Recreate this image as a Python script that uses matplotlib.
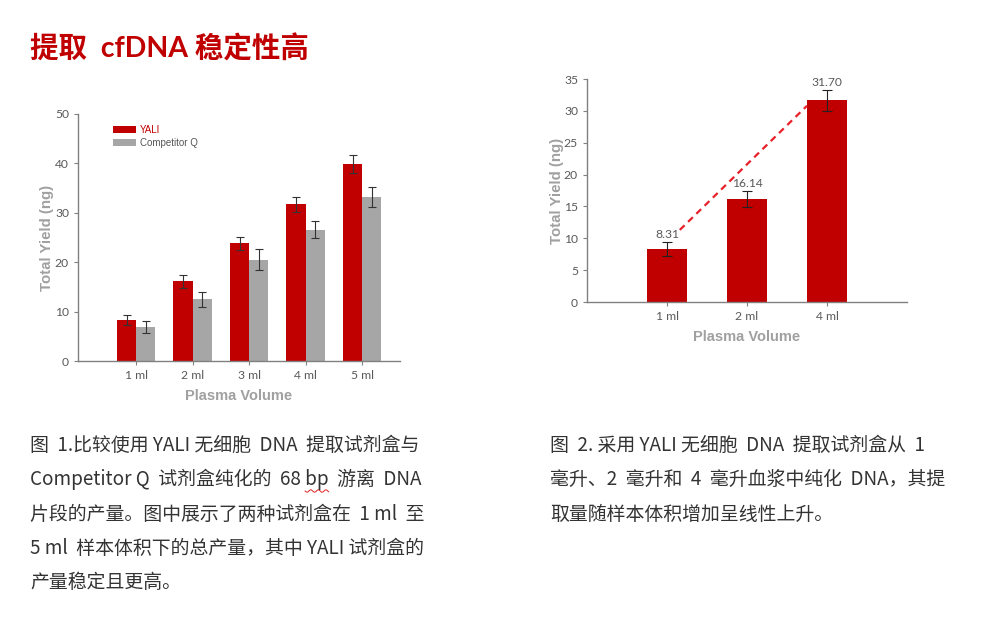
import numpy as np
import matplotlib.pyplot as plt

# data
volumes_1 = ['1 ml', '2 ml', '3 ml', '4 ml', '5 ml']
yali_1 = [8.3, 16.1, 23.8, 31.7, 39.8]
yali_err_1 = [1.05, 1.3, 1.4, 1.55, 1.8]
comp_1 = [6.9, 12.5, 20.5, 26.6, 33.2]
comp_err_1 = [1.2, 1.5, 2.1, 1.7, 2.1]

volumes_2 = ['1 ml', '2 ml', '4 ml']
yali_2 = [8.31, 16.14, 31.70]
yali_err_2 = [1.15, 1.25, 1.65]

title = '提取  cfDNA 稳定性高'
caption_1 = ['图  1.比较使用 YALI 无细胞  DNA  提取试剂盒与',
             'Competitor Q  试剂盒纯化的  68 bp  游离  DNA',
             '片段的产量。图中展示了两种试剂盒在  1 ml  至',
             '5 ml  样本体积下的总产量，其中 YALI 试剂盒的',
             '产量稳定且更高。']
caption_2 = ['图  2. 采用 YALI 无细胞  DNA  提取试剂盒从  1',
             '毫升、2  毫升和  4  毫升血浆中纯化  DNA，其提',
             '取量随样本体积增加呈线性上升。']

RED = '#C00000'
GRAY = '#A6A6A6'
SPINE = '#808080'
TICK = '#595959'
LABEL = '#A0A0A0'

plt.rcParams['font.family'] = ['Noto Sans CJK SC', 'DejaVu Sans']

W, H = 984, 624
fig = plt.figure(figsize=(W / 100, H / 100), dpi=100)


def px_axes(l, t, r, b):
    return fig.add_axes([l / W, 1 - b / H, (r - l) / W, (b - t) / H])


def style(ax):
    for s in ['top', 'right']:
        ax.spines[s].set_visible(False)
    for s in ['left', 'bottom']:
        ax.spines[s].set_color(SPINE)
        ax.spines[s].set_linewidth(1.0)
    ax.tick_params(axis='both', colors=SPINE, labelcolor=TICK, length=3,
                   width=0.8, labelsize=8.7)
    for lab in ax.get_xticklabels() + ax.get_yticklabels():
        lab.set_family('Lato')
    ax.set_ylabel('Total Yield (ng)', family='Liberation Sans', weight='bold',
                  color=LABEL, fontsize=10.8)
    ax.set_xlabel('Plasma Volume', family='Liberation Sans', weight='bold',
                  color=LABEL, fontsize=10.5)


# chart 1
ax1 = px_axes(78, 114, 400, 361)
x1 = np.arange(len(volumes_1))
w1 = 0.34
ekw = dict(ecolor='#333333', elinewidth=0.8, capsize=3, capthick=0.8)
ax1.bar(x1 - w1 / 2, yali_1, w1, color=RED, label='YALI', yerr=yali_err_1, error_kw=ekw)
ax1.bar(x1 + w1 / 2, comp_1, w1, color=GRAY, label='Competitor Q', yerr=comp_err_1, error_kw=ekw)
ax1.set_xlim(-1.03, 4.67)
ax1.set_ylim(0, 50)
ax1.set_yticks([0, 10, 20, 30, 40, 50])
ax1.set_xticks(x1)
ax1.set_xticklabels(volumes_1)
style(ax1)
ax1.yaxis.set_label_coords(-0.075, 0.5)
ax1.xaxis.set_label_coords(0.5, -0.114)
leg = ax1.legend(loc='upper left', bbox_to_anchor=(0.08, 0.99), frameon=False,
                 handlelength=2.4, handleheight=0.7,
                 handletextpad=0.4, labelspacing=0.25,
                 prop={'family': 'Liberation Sans', 'size': 7})
leg.get_texts()[0].set_color(RED)
leg.get_texts()[1].set_color('#555555')

# chart 2
ax2 = px_axes(587, 79, 907, 302)
x2 = np.arange(len(volumes_2))
ax2.bar(x2, yali_2, 0.51, color=RED, yerr=yali_err_2,
        error_kw=dict(ecolor='#222222', elinewidth=0.8, capsize=3.5, capthick=0.8))
for xi, v, e in zip(x2, yali_2, yali_err_2):
    ax2.text(xi, v + e + 0.3, f'{v:.2f}', ha='center', va='bottom',
             fontsize=8.7, color=TICK, family='Lato')
ax2.plot([x2[0] + 0.16, x2[-1] - 0.25], [yali_2[0] + 3.0, yali_2[-1] - 0.9],
         color='#E8202A', lw=1.6, ls=(0, (3, 2.2)))
ax2.set_xlim(-1.0, 3.0)
ax2.set_ylim(0, 35)
ax2.set_yticks(range(0, 36, 5))
ax2.set_xticks(x2)
ax2.set_xticklabels(volumes_2)
style(ax2)
ax2.yaxis.set_label_coords(-0.073, 0.5)
ax2.xaxis.set_label_coords(0.5, -0.127)

# texts
fig.text(30 / W, 1 - 48 / H, title, color=RED, fontsize=20.5, weight='bold',
         va='center', ha='left', family=['Lato', 'Noto Sans CJK SC'])
cap_kw = dict(fontsize=13.6, color='#333333', va='center', ha='left')
for i, line in enumerate(caption_1):
    fig.text(30 / W, 1 - (445 + 34.5 * i) / H, line, **cap_kw)
for i, line in enumerate(caption_2):
    fig.text(550 / W, 1 - (445 + 34.5 * i) / H, line, **cap_kw)

# spell-check squiggle under "bp" in caption 1, line 2
renderer = fig.canvas.get_renderer()
line2 = caption_1[1]
pre = fig.text(0, 0, line2[:line2.index('bp')], alpha=0, **cap_kw)
upto = fig.text(0, 0, line2[:line2.index('bp') + 2], alpha=0, **cap_kw)
x0 = 30 + pre.get_window_extent(renderer).width
x1w = 30 + upto.get_window_extent(renderer).width
xs = np.linspace(x0, x1w, 40)
ys = 491 + 1.2 * np.sin((xs - x0) / 1.2)
fig.add_artist(plt.Line2D(xs / W, 1 - ys / H, color='#E02020', lw=0.7,
                          transform=fig.transFigure))

fig.savefig('out.png', dpi=100)
